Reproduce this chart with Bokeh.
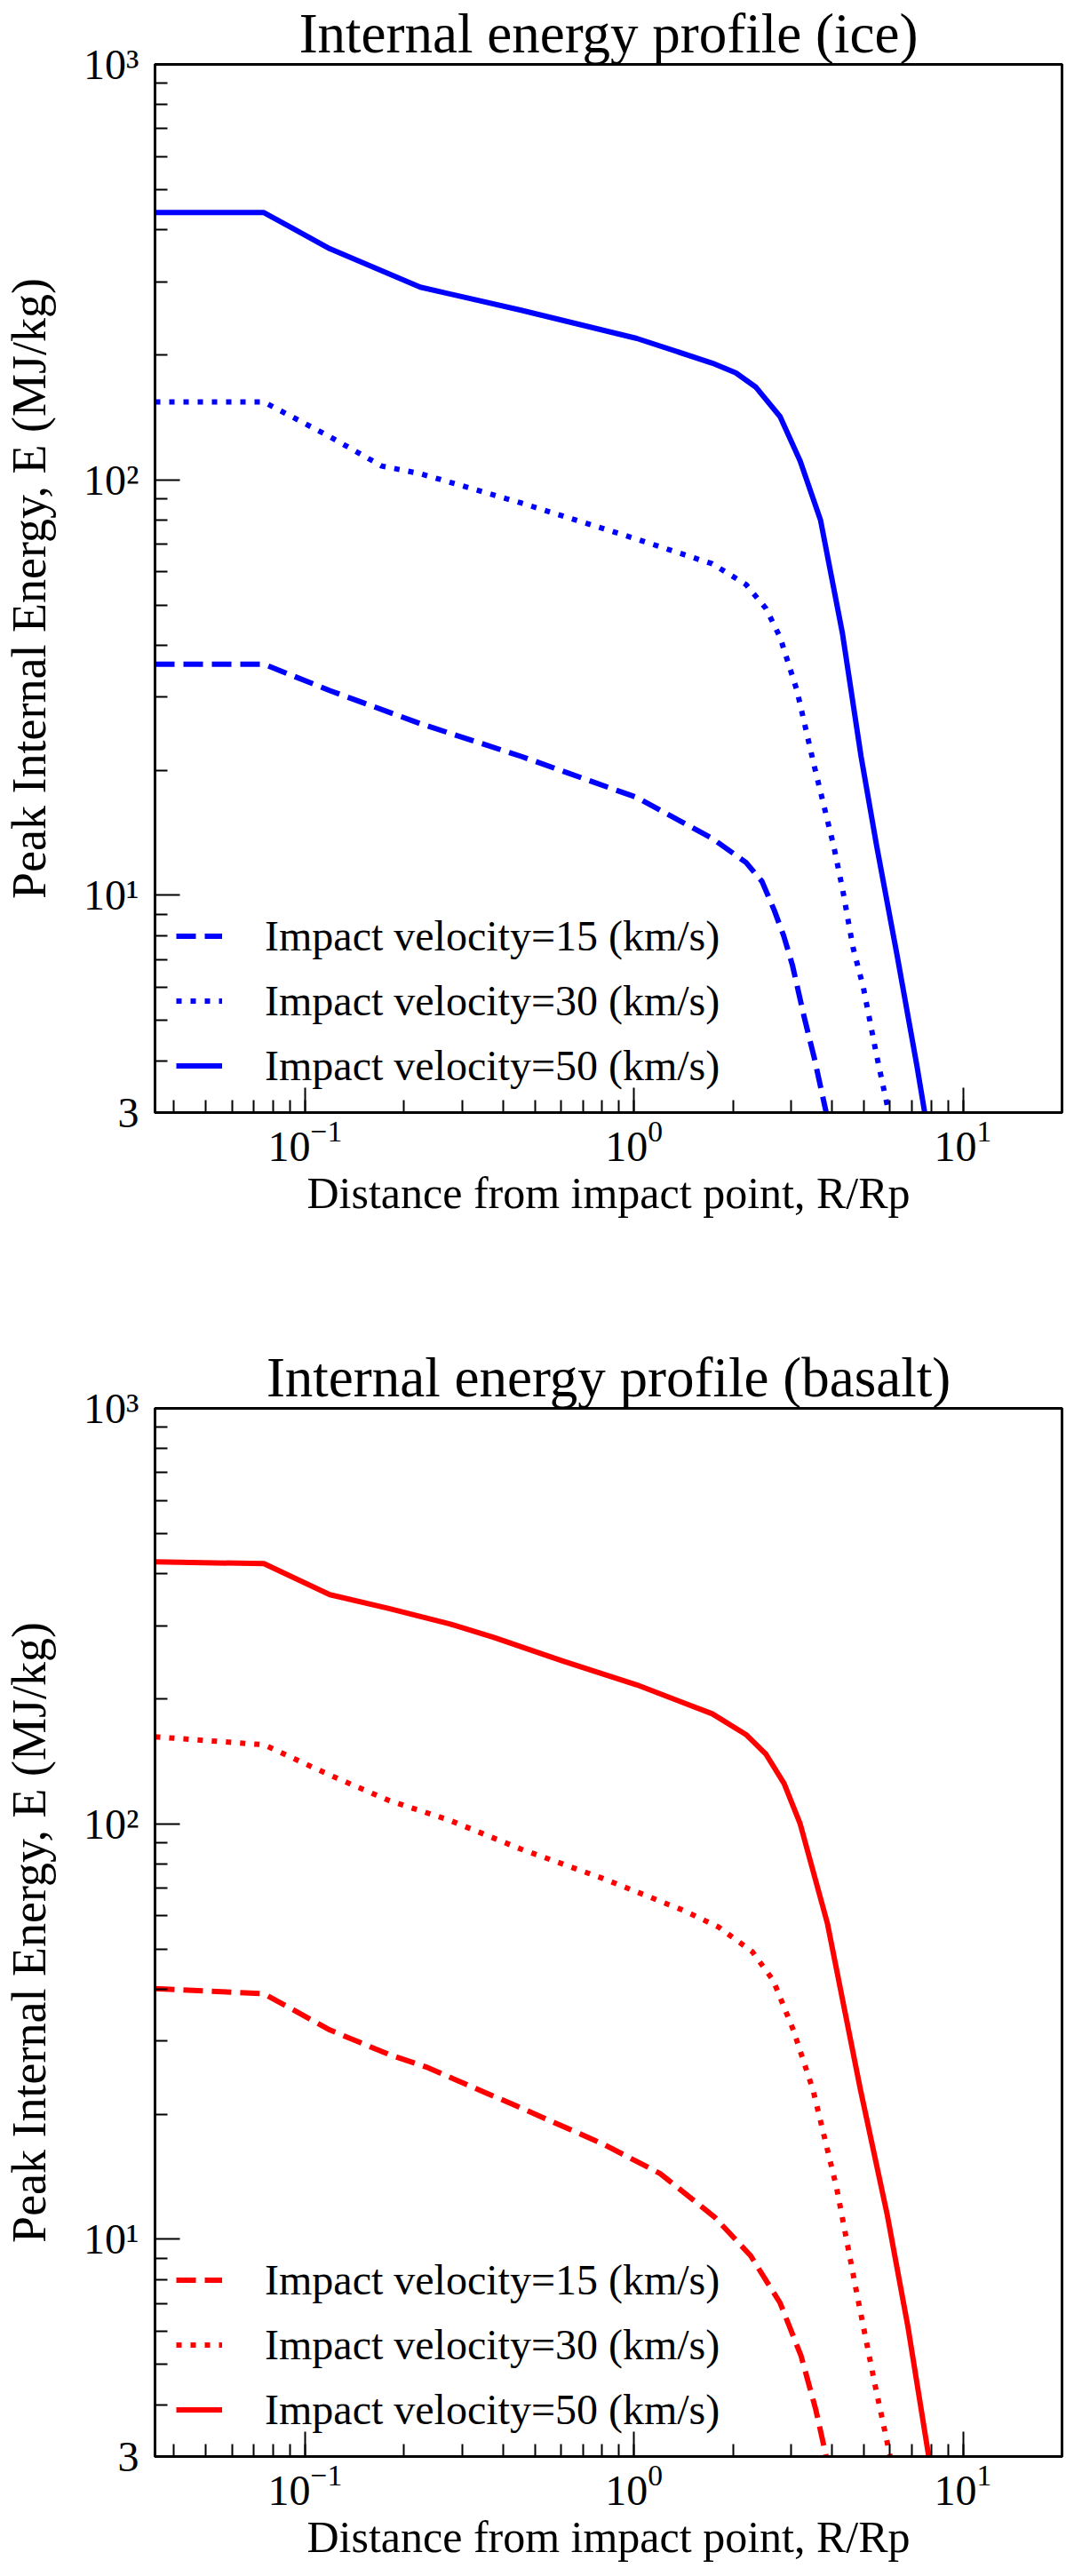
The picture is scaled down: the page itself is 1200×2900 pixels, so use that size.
from bokeh.plotting import figure
from bokeh.models import Legend, LegendItem, FixedTicker, CustomJSTickFormatter
from bokeh.layouts import column
from bokeh.embed import file_html
from bokeh.resources import INLINE

# ice: distance R/Rp and peak internal energy (MJ/kg)
ice_r_15 = [0.035, 0.075, 0.119, 0.224, 0.454, 1.02, 1.73, 2.19, 2.45, 2.67, 2.85, 3.03, 3.29, 3.54, 3.84]
ice_e_15 = [36, 36, 31.1, 25.9, 21.6, 17.2, 13.7, 12.0, 10.8, 9.2, 8.0, 6.8, 5.1, 4.03, 3.0]
ice_r_30 = [0.035, 0.075, 0.119, 0.171, 0.224, 0.454, 1.02, 1.73, 2.19, 2.52, 2.78, 3.13, 3.52, 4.05, 4.31, 4.63, 4.98, 5.47, 5.95]
ice_e_30 = [154, 154, 127, 108, 103.5, 88, 72, 62.8, 56, 49, 41.8, 31.1, 20.7, 13.1, 10.3, 7.5, 6.0, 4.1, 3.0]
ice_r_50 = [0.035, 0.075, 0.119, 0.224, 0.454, 1.02, 1.73, 2.04, 2.35, 2.78, 3.20, 3.69, 4.3, 4.9, 5.47, 6.3, 7.24, 7.65]
ice_e_50 = [440, 440, 360, 291, 256, 219, 191, 181, 167, 142, 111, 80, 42.8, 21.6, 13.1, 7.2, 3.9, 3.0]

# basalt
bas_r_15 = [0.035, 0.075, 0.119, 0.179, 0.233, 0.454, 0.80, 1.2, 1.76, 2.26, 2.78, 3.22, 3.57, 3.84]
bas_e_15 = [40.1, 39, 31.9, 27.9, 26, 20.7, 17.0, 14.4, 11.3, 9.14, 7.03, 5.24, 3.89, 3.0]
bas_r_30 = [0.035, 0.075, 0.119, 0.179, 0.275, 0.454, 0.80, 1.42, 1.81, 2.29, 2.65, 3.05, 3.50, 4.13, 4.78, 5.41, 6.01]
bas_e_30 = [162, 155, 131, 114, 102, 86.9, 74, 61.8, 56.4, 49.2, 42, 31.9, 22.9, 13.3, 7.26, 4.44, 3.0]
bas_r_50 = [0.035, 0.075, 0.119, 0.179, 0.275, 0.375, 0.604, 1.02, 1.73, 2.19, 2.52, 2.86, 3.20, 3.87, 4.88, 5.88, 6.80, 7.87]
bas_e_50 = [427, 423, 356, 330, 303, 281, 247, 216, 184, 164, 147, 125, 100, 57.7, 22.9, 11.5, 6.17, 3.0]

legend_labels = ["Impact velocity=15 (km/s)", "Impact velocity=30 (km/s)", "Impact velocity=50 (km/s)"]
y_ticks = [3, 10, 100, 1000]
y_minor = [m * 10 ** d for d in range(0, 3) for m in range(2, 10) if m * 10 ** d > 3]

X_RANGE = (0.035, 20)
Y_RANGE = (3, 1000)
SERIF = "Liberation Serif"

# 10^n written with superscript digits, the bottom tick stays a plain "3"
y_fmt = CustomJSTickFormatter(code="""
    const sup = {1: '\\u00b9', 2: '\\u00b2', 3: '\\u00b3'};
    if (tick >= 10) {
        return '10' + sup[Math.round(Math.log10(tick))];
    }
    return String(tick);
""")


def make_panel(title, color, curves, border_top, border_bottom):
    p = figure(x_axis_type="log", y_axis_type="log", x_range=X_RANGE, y_range=Y_RANGE,
               frame_width=1021, frame_height=1180,
               min_border_left=171, min_border_right=8,
               min_border_top=border_top, min_border_bottom=border_bottom,
               toolbar_location=None, output_backend="svg",
               title=title)
    p.title.text_font = SERIF
    p.title.text_font_size = "63px"
    p.title.text_font_style = "normal"
    p.title.align = "center"
    p.title.standoff = 0
    p.title.text_color = "black"

    p.grid.visible = False
    p.outline_line_color = "black"
    p.outline_line_width = 3
    p.outline_line_alpha = 1

    p.yaxis.ticker = FixedTicker(ticks=y_ticks, minor_ticks=y_minor)
    p.yaxis.formatter = y_fmt

    for ax in (p.xaxis[0], p.yaxis[0]):
        ax.axis_line_width = 3
        ax.axis_line_color = "black"
        ax.major_tick_in = 28
        ax.major_tick_out = 0
        ax.minor_tick_in = 14
        ax.minor_tick_out = 0
        ax.major_tick_line_width = 2
        ax.minor_tick_line_width = 2
        ax.major_tick_line_color = "black"
        ax.minor_tick_line_color = "black"
        ax.major_label_text_font = SERIF
        ax.major_label_text_font_size = "48px"
        ax.major_label_text_color = "black"
        ax.axis_label_text_font = SERIF
        ax.axis_label_text_font_style = "normal"
        ax.axis_label_text_color = "black"
    p.xaxis.major_label_standoff = 10
    p.yaxis.major_label_standoff = 18
    p.xaxis.axis_label = "Distance from impact point, R/Rp"
    p.xaxis.axis_label_text_font_size = "50px"
    p.xaxis.axis_label_standoff = 5
    p.yaxis.axis_label = "Peak Internal Energy, E (MJ/kg)"
    p.yaxis.axis_label_text_font_size = "54px"
    p.yaxis.axis_label_standoff = 28

    dashes = ["22 10", "6 10", "solid"]
    items = []
    for (r, e), dash, name in zip(curves, dashes, legend_labels):
        rend = p.line(r, e, line_color=color, line_width=6, line_dash=dash, line_join="round")
        items.append(LegendItem(label=name, renderers=[rend]))

    leg = Legend(items=items, location=(24, 16), padding=0, margin=0, spacing=0,
                 glyph_width=52, glyph_height=73, label_height=73, label_standoff=48,
                 label_text_font=SERIF, label_text_font_size="48px", label_text_color="black",
                 border_line_alpha=0, background_fill_alpha=0)
    p.add_layout(leg)
    return p


p_ice = make_panel("Internal energy profile (ice)", "#0000ff",
                   [(ice_r_15, ice_e_15), (ice_r_30, ice_e_30), (ice_r_50, ice_e_50)],
                   70, 198)
p_bas = make_panel("Internal energy profile (basalt)", "#ff0000",
                   [(bas_r_15, bas_e_15), (bas_r_30, bas_e_30), (bas_r_50, bas_e_50)],
                   135, 137)

p = column(p_ice, p_bas)
open("out.html", "w").write(file_html(p, INLINE))
